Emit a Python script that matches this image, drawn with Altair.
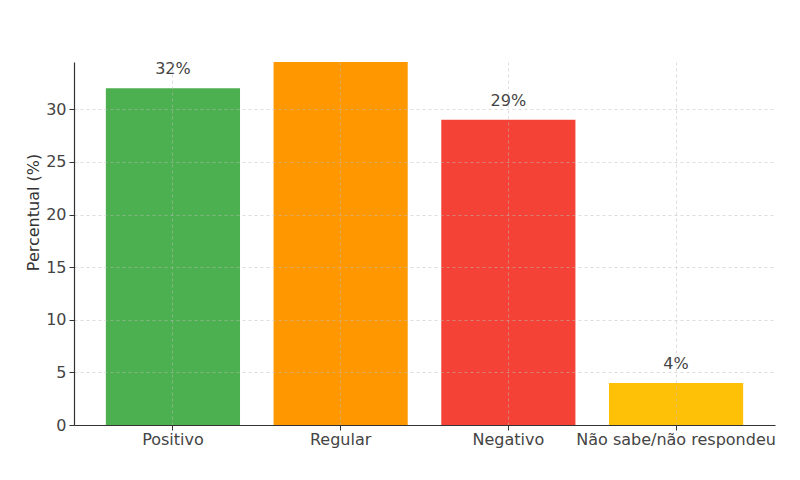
import altair as alt
import pandas as pd

categories = ["Positivo", "Regular", "Negativo", "Não sabe/não respondeu"]
values = [32, 35, 29, 4]
colors = ["#4CAF50", "#FF9800", "#F44336", "#FFC107"]
labels = ["32%", "35%", "29%", "4%"]

df = pd.DataFrame({"cat": categories, "val": values, "color": colors, "label": labels})

FONT = "DejaVu Sans"

x = alt.X("cat:N", sort=categories, title=None,
          scale=alt.Scale(paddingInner=0.2, paddingOuter=0.19),
          axis=alt.Axis(labelAngle=0, labelFontSize=16, labelColor="#444444", labelFont=FONT,
                        labelLimit=0, labelOverlap=False,
                        domainColor="#333333", domainWidth=1.2, tickColor="#333333", tickSize=5,
                        labelPadding=1, grid=True, gridDash=[3, 3], gridColor="#bbbbbb",
                        gridOpacity=0.5, bandPosition=0.5, zindex=1))
y = alt.Y("val:Q", title="Percentual (%)",
          scale=alt.Scale(domain=[0, 34.5], nice=False, zero=True),
          axis=alt.Axis(values=[0, 5, 10, 15, 20, 25, 30], labelFontSize=16, labelColor="#444444",
                        labelFont=FONT, domainColor="#333333", domainWidth=1.2, tickColor="#333333",
                        tickSize=5, labelPadding=3, grid=True, gridDash=[3, 3], gridColor="#bbbbbb",
                        gridOpacity=0.5, titleFont=FONT, titleFontSize=16, titleFontWeight="normal",
                        titleColor="#333333", titleX=-41, titleY=150, titleAngle=-90,
                        titleAlign="center", titleBaseline="middle", zindex=1))

bars = alt.Chart(df).mark_bar(clip=True).encode(
    x=x, y=y, color=alt.Color("color:N", scale=None)
)
text = alt.Chart(df).mark_text(clip=True, dy=-14, baseline="alphabetic", fontSize=16,
                               font=FONT, color="#444444").encode(
    x=alt.X("cat:N", sort=categories), y=alt.Y("val:Q"), text="label:N"
)

chart = alt.layer(bars, text).properties(
    width=701, height=363,
    autosize=alt.AutoSizeParams(type="none"),
    padding={"left": 74, "top": 62, "right": 25, "bottom": 55},
    background="white",
).configure_view(stroke=None)

chart.save("out.html", embed_options={"renderer": "svg", "actions": False})
